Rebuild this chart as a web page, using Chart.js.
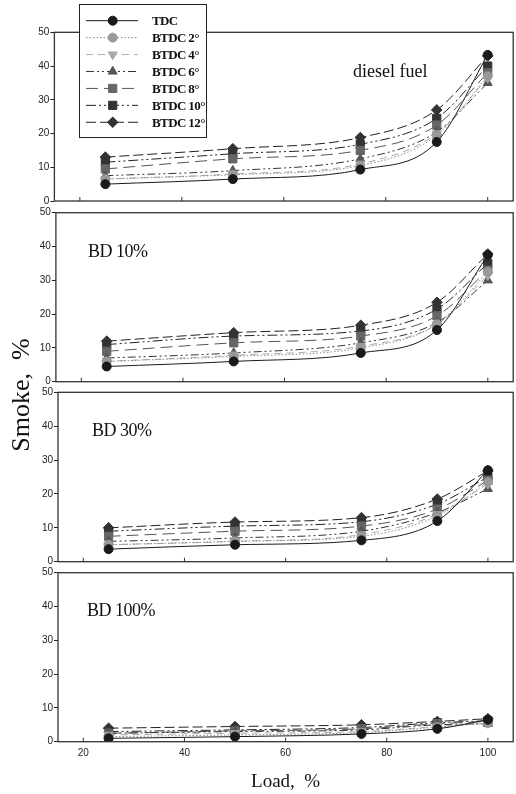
<!DOCTYPE html>
<html>
<head>
<meta charset="utf-8">
<script src="https://cdn.jsdelivr.net/npm/chart.js@4.4.1/dist/chart.umd.min.js"></script>
<style>
  body { margin: 0; background: #fff; overflow: hidden; }
  #wrap { position: relative; width: 516px; height: 794px; overflow: hidden; }
  #wrap canvas { position: absolute; left: 0; }
  .note { position: absolute; font-family: "Liberation Serif", serif; color: #111; white-space: pre; line-height: 1; }
</style>
</head>
<body>
<div id="wrap">
  <canvas id="p1"></canvas>
  <canvas id="p2"></canvas>
  <canvas id="p3"></canvas>
  <canvas id="p4"></canvas>
  <div class="note" style="left:353px;top:62px;font-size:18px">diesel fuel</div>
  <div class="note" style="left:88px;top:242px;font-size:18px;letter-spacing:-0.5px">BD 10%</div>
  <div class="note" style="left:92px;top:421px;font-size:18px;letter-spacing:-0.5px">BD 30%</div>
  <div class="note" style="left:87px;top:601px;font-size:18px;letter-spacing:-0.5px">BD 100%</div>
  <div class="note" style="left:-79px;top:382px;width:200px;text-align:center;font-size:26px;transform:rotate(-90deg)">Smoke,  %</div>
</div>
<script>
// load points (x) and tick labels
const loads = [25, 50, 75, 90, 100];
const xTicks = [20, 40, 60, 80, 100];
const seriesNames = ['TDC', 'BTDC 2°', 'BTDC 4°', 'BTDC 6°', 'BTDC 8°', 'BTDC 10°', 'BTDC 12°'];

// smoke %, diesel fuel
const dieselTDC    = [5, 6.5, 9.3, 17.5, 43.3];
const dieselBTDC2  = [6.5, 7.8, 10.5, 19.5, 37];
const dieselBTDC4  = [6.5, 8, 11, 20, 36.5];
const dieselBTDC6  = [7.5, 9, 12.5, 20.5, 35];
const dieselBTDC8  = [9.5, 12.5, 15, 22.5, 38];
const dieselBTDC10 = [11.5, 14, 16.8, 24.5, 40];
const dieselBTDC12 = [13, 15.5, 18.8, 27, 43];

// BD 10%
const bd10TDC    = [4.5, 6, 8.5, 15.3, 37.5];
const bd10BTDC2  = [6, 7.5, 10, 17, 32.5];
const bd10BTDC4  = [6, 7.8, 10.5, 17, 31.5];
const bd10BTDC6  = [7, 8.5, 11.5, 17.5, 30];
const bd10BTDC8  = [9, 11.5, 13.5, 19.5, 33];
const bd10BTDC10 = [11, 13.5, 15, 21.5, 35];
const bd10BTDC12 = [12, 14.5, 16.7, 23.5, 37.8];

// BD 30%
const bd30TDC    = [3.7, 5, 6.3, 12, 27];
const bd30BTDC2  = [5, 6, 7.5, 13.5, 23.5];
const bd30BTDC4  = [5, 6, 8, 14, 23];
const bd30BTDC6  = [6, 7, 9, 14.5, 21.5];
const bd30BTDC8  = [7.5, 9, 10.5, 15.5, 24];
const bd30BTDC10 = [9, 10.5, 11.8, 17, 25];
const bd30BTDC12 = [10, 11.7, 13, 18.5, 26.8];

// BD 100%
const bd100TDC    = [1, 1.5, 2.3, 3.8, 6.5];
const bd100BTDC2  = [1.5, 2, 2.7, 4.3, 5.5];
const bd100BTDC4  = [2, 2.5, 3, 4.5, 5.5];
const bd100BTDC6  = [2.5, 3, 3.5, 5, 5.3];
const bd100BTDC8  = [2.5, 3.2, 3.8, 5.3, 6];
const bd100BTDC10 = [3, 3.5, 4.2, 5.6, 6.2];
const bd100BTDC12 = [4, 4.5, 5, 6, 6.8];

// line / marker look per series
const styles = [
  { line: '#1a1a1a', fill: '#1a1a1a', dash: [], shape: 'circle', rot: 0, r: 4.5 },
  { line: '#888', fill: '#999', dash: [1.5, 2], shape: 'circle', rot: 0, r: 4.5 },
  { line: '#aaa', fill: '#aaa', dash: [7, 5], shape: 'triangle', rot: 180, r: 5.2 },
  { line: '#333', fill: '#555', dash: [8, 3, 2, 3, 2, 3], shape: 'triangle', rot: 0, r: 5.2 },
  { line: '#555', fill: '#666', dash: [12, 6], shape: 'rect', rot: 0, r: 5.8 },
  { line: '#222', fill: '#333', dash: [10, 3, 2, 3, 2, 3], shape: 'rect', rot: 0, r: 5.8 },
  { line: '#222', fill: '#333', dash: [10, 4], shape: 'rectRot', rot: 0, r: 5.3 }
];

const panels = [
  { id: 'p1', top: 32.3, bottom: 201, left: 54.4, ctop: 0,
    series: [dieselTDC, dieselBTDC2, dieselBTDC4, dieselBTDC6, dieselBTDC8, dieselBTDC10, dieselBTDC12] },
  { id: 'p2', top: 212.7, bottom: 381.7, left: 55.9, ctop: 195,
    series: [bd10TDC, bd10BTDC2, bd10BTDC4, bd10BTDC6, bd10BTDC8, bd10BTDC10, bd10BTDC12] },
  { id: 'p3', top: 392.3, bottom: 561.7, left: 58, ctop: 375,
    series: [bd30TDC, bd30BTDC2, bd30BTDC4, bd30BTDC6, bd30BTDC8, bd30BTDC10, bd30BTDC12] },
  { id: 'p4', top: 572.7, bottom: 741.7, left: 58, ctop: 555,
    series: [bd100TDC, bd100BTDC2, bd100BTDC4, bd100BTDC6, bd100BTDC8, bd100BTDC10, bd100BTDC12] }
];

const CW = 520;
const plotW = 461.3;

function marker(ctx, s, x, y) {
  ctx.save();
  ctx.translate(x, y);
  ctx.rotate(s.rot * Math.PI / 180);
  ctx.fillStyle = s.fill;
  ctx.strokeStyle = s.fill;
  ctx.lineWidth = 1;
  ctx.beginPath();
  const r = s.r;
  if (s.shape === 'circle') {
    ctx.arc(0, 0, r, 0, Math.PI * 2);
  } else if (s.shape === 'triangle') {
    ctx.moveTo(0, -r);
    ctx.lineTo(r * 0.866, r * 0.5);
    ctx.lineTo(-r * 0.866, r * 0.5);
    ctx.closePath();
  } else if (s.shape === 'rect') {
    const h = r * Math.SQRT1_2;
    ctx.rect(-h, -h, 2 * h, 2 * h);
  } else {
    ctx.moveTo(0, -r); ctx.lineTo(r, 0); ctx.lineTo(0, r); ctx.lineTo(-r, 0); ctx.closePath();
  }
  ctx.fill();
  ctx.stroke();
  ctx.restore();
}

// box around plot + small inward ticks on x, legend on the first panel
const framePlugin = {
  id: 'frame',
  afterDraw(chart, args, opts) {
    const { ctx, chartArea: a } = chart;
    const xs = chart.scales.x;
    ctx.save();
    ctx.strokeStyle = '#333';
    ctx.lineWidth = 1.3;
    ctx.strokeRect(a.left, a.top, a.right - a.left, a.bottom - a.top);
    ctx.lineWidth = 1;
    xTicks.forEach(v => {
      const px = xs.getPixelForValue(v);
      ctx.beginPath();
      ctx.moveTo(px, a.bottom);
      ctx.lineTo(px, a.bottom - 4);
      ctx.stroke();
    });
    if (opts.legend) {
      ctx.fillStyle = '#fff';
      ctx.fillRect(79.5, 4.5, 127, 133);
      ctx.strokeStyle = '#222';
      ctx.strokeRect(79.5, 4.5, 127, 133);
      ctx.font = 'bold 13px "Liberation Serif"';
      ctx.textBaseline = 'middle';
      ctx.letterSpacing = '-0.6px';
      seriesNames.forEach((name, i) => {
        const s = styles[i];
        const y = 20.7 + i * 16.93;
        ctx.strokeStyle = s.line;
        ctx.lineWidth = 1;
        ctx.setLineDash(s.dash);
        ctx.beginPath();
        ctx.moveTo(86, y);
        ctx.lineTo(138, y);
        ctx.stroke();
        ctx.setLineDash([]);
        marker(ctx, s, 112.7, y);
        ctx.fillStyle = '#111';
        ctx.fillText(name, 152, y + 1);
      });
    }
    ctx.restore();
  }
};

const tickFont = { family: 'Liberation Sans', size: 10 };

panels.forEach((p, k) => {
  const last = k === panels.length - 1;
  const canvas = document.getElementById(p.id);
  const ch = last ? 794 - p.ctop : Math.ceil(p.bottom - p.ctop + 8);
  const xh = ch - (p.bottom - p.ctop);
  canvas.width = CW;
  canvas.height = ch;
  canvas.style.top = p.ctop + 'px';

  const datasets = p.series.map((vals, i) => {
    const s = styles[i];
    return {
      label: seriesNames[i],
      data: loads.map((x, j) => ({ x: x, y: vals[j] })),
      borderColor: s.line,
      borderWidth: 1,
      borderDash: s.dash,
      backgroundColor: s.fill,
      pointBackgroundColor: s.fill,
      pointBorderColor: s.fill,
      pointStyle: s.shape,
      pointRotation: s.rot,
      pointRadius: s.r,
      pointBorderWidth: 1,
      cubicInterpolationMode: 'monotone',
      fill: false
    };
  });

  new Chart(canvas, {
    type: 'line',
    data: { datasets },
    plugins: [framePlugin],
    options: {
      responsive: false,
      animation: false,
      layout: { padding: { top: p.top - p.ctop, right: CW - p.left - plotW, left: 0, bottom: 0 } },
      plugins: {
        legend: { display: false },
        tooltip: { enabled: false },
        frame: { legend: k === 0 }
      },
      scales: {
        x: {
          type: 'linear', min: 15, max: 105,
          afterBuildTicks: ax => { ax.ticks = xTicks.map(v => ({ value: v })); },
          afterFit: sc => { sc.height = xh; },
          grid: { display: true, drawOnChartArea: false, drawTicks: false },
          border: { display: false },
          ticks: { display: last, padding: 6, font: tickFont, color: '#222', maxRotation: 0 },
          title: {
            display: last, text: 'Load,  %', color: '#111',
            font: { family: 'Liberation Serif', size: 19 },
            padding: { top: 0, bottom: 1 }
          }
        },
        y: {
          min: 0, max: 50,
          afterFit: sc => { sc.width = p.left; },
          grid: { display: true, drawOnChartArea: false, drawTicks: true, tickLength: 4, color: '#222' },
          border: { display: false },
          ticks: { stepSize: 10, padding: 1, font: tickFont, color: '#222' }
        }
      }
    }
  });
});
</script>
</body>
</html>
